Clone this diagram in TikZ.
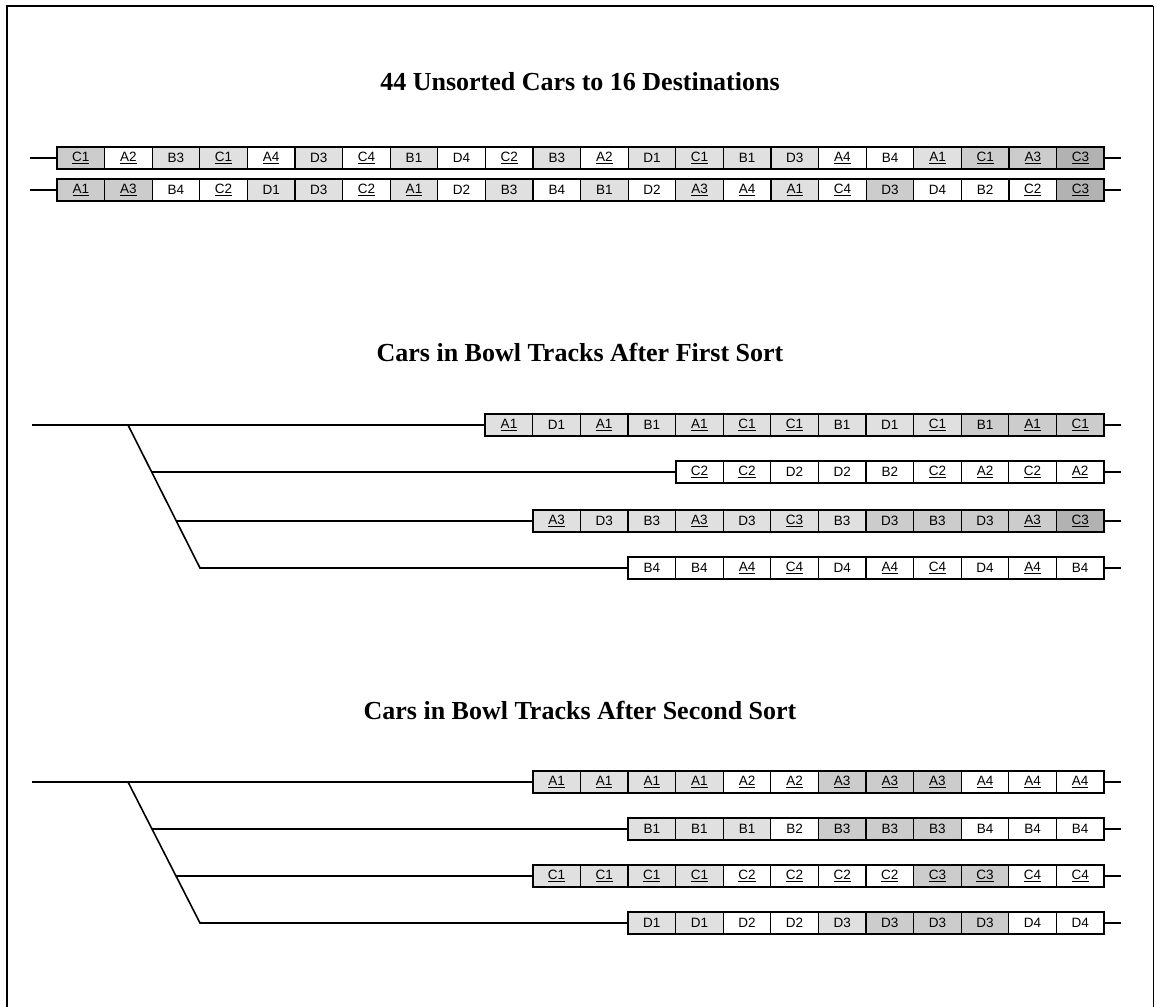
\documentclass[tikz,border=0pt]{standalone}
\usepackage{fontspec}
\setmainfont{Liberation Serif}
\setsansfont{Liberation Sans}
\newcommand\uln[1]{\underline{#1}}
\definecolor{nn}{gray}{1}
\definecolor{ll}{gray}{0.88}
\definecolor{mm}{gray}{0.8}
\definecolor{dd}{gray}{0.7}
\tikzset{
  car/.style={draw, line width=1.2pt, minimum width=47.6pt, minimum height=22pt,
    inner sep=0pt, outer sep=0pt, font=\sffamily\fontsize{13.5}{14}\selectfont},
  trackline/.style={line width=1.6pt},
  boxline/.style={line width=2.2pt},
  title/.style={font=\bfseries\fontsize{26}{30}\selectfont}
}
\newcommand\carrow[4]{%
  \foreach \lab/\sh [count=\i] in {#4} {
    \node[car, fill=\sh] (#1-\i) at ({#3 + (\i-0.5)*47.6}, #2) {\lab};
  }%
}
\begin{document}
\begin{tikzpicture}[x=1pt,y=-1pt]
\useasboundingbox (0,0) rectangle (1157,1007);
% frame
\draw[line width=1.8pt] (7,1007) -- (7,6) -- (1153,6);
\draw[line width=1pt] (1153,6) -- (1153,1007);

% titles
\node[title] (t1) at (580,82) {44 Unsorted Cars to 16 Destinations};
\node[title] (t2) at (580,352) {Cars in Bowl Tracks After First Sort};
\node[title] (t3) at (580,710) {Cars in Bowl Tracks After Second Sort};

% unsorted rows
\carrow{ua}{158}{57}{\uln{C1}/mm, \uln{A2}/nn, B3/ll, \uln{C1}/ll, \uln{A4}/nn, D3/ll, \uln{C4}/nn, B1/ll, D4/nn, \uln{C2}/nn, B3/ll, \uln{A2}/nn, D1/ll, \uln{C1}/ll, B1/ll, D3/ll, \uln{A4}/nn, B4/nn, \uln{A1}/ll, \uln{C1}/mm, \uln{A3}/mm, \uln{C3}/dd}
\carrow{ub}{190}{57}{\uln{A1}/mm, \uln{A3}/mm, B4/nn, \uln{C2}/nn, D1/ll, D3/ll, \uln{C2}/nn, \uln{A1}/ll, D2/nn, B3/ll, B4/nn, B1/ll, D2/nn, \uln{A3}/ll, \uln{A4}/nn, \uln{A1}/ll, \uln{C4}/nn, D3/mm, D4/nn, B2/nn, \uln{C2}/nn, \uln{C3}/dd}
\draw[boxline] (ua-1.north west) rectangle (ua-22.south east);
\draw[boxline] (ub-1.north west) rectangle (ub-22.south east);
\coordinate (uaL) at (30,158); \coordinate (uaR) at (1121,158);
\coordinate (ubL) at (30,190); \coordinate (ubR) at (1121,190);
\draw[trackline] (uaL) -- (ua-1.west);
\draw[trackline] (ua-22.east) -- (uaR);
\draw[trackline] (ubL) -- (ub-1.west);
\draw[trackline] (ub-22.east) -- (ubR);

% first sort
\carrow{fa}{425}{485.2}{\uln{A1}/ll, D1/ll, \uln{A1}/ll, B1/ll, \uln{A1}/ll, \uln{C1}/ll, \uln{C1}/ll, B1/ll, D1/ll, \uln{C1}/ll, B1/mm, \uln{A1}/mm, \uln{C1}/mm}
\carrow{fb}{472}{675.6}{\uln{C2}/nn, \uln{C2}/nn, D2/nn, D2/nn, B2/nn, \uln{C2}/nn, \uln{A2}/nn, \uln{C2}/nn, \uln{A2}/nn}
\carrow{fc}{521}{532.8}{\uln{A3}/ll, D3/ll, B3/ll, \uln{A3}/ll, D3/ll, \uln{C3}/ll, B3/ll, D3/mm, B3/mm, D3/mm, \uln{A3}/mm, \uln{C3}/dd}
\carrow{fd}{568}{628}{B4/nn, B4/nn, \uln{A4}/nn, \uln{C4}/nn, D4/nn, \uln{A4}/nn, \uln{C4}/nn, D4/nn, \uln{A4}/nn, B4/nn}
\draw[boxline] (fa-1.north west) rectangle (fa-13.south east);
\draw[boxline] (fb-1.north west) rectangle (fb-9.south east);
\draw[boxline] (fc-1.north west) rectangle (fc-12.south east);
\draw[boxline] (fd-1.north west) rectangle (fd-10.south east);
\coordinate (fL) at (32,425);
\coordinate (fj1) at (128,425);
\coordinate (fj2) at (151.7,472);
\coordinate (fj3) at (176.3,521);
\coordinate (fj4) at (200,568);
\draw[trackline] (fL) -- (fa-1.west);
\draw[trackline] (fj1) -- (fj4) -- (fd-1.west);
\draw[trackline] (fj2) -- (fb-1.west);
\draw[trackline] (fj3) -- (fc-1.west);
\foreach \r/\n/\y in {fa/13/425, fb/9/472, fc/12/521, fd/10/568} {
  \coordinate (\r R) at (1121,\y);
  \draw[trackline] (\r-\n.east) -- (\r R);
}

% second sort
\carrow{sa}{782}{532.8}{\uln{A1}/ll, \uln{A1}/ll, \uln{A1}/ll, \uln{A1}/ll, \uln{A2}/nn, \uln{A2}/nn, \uln{A3}/mm, \uln{A3}/mm, \uln{A3}/mm, \uln{A4}/nn, \uln{A4}/nn, \uln{A4}/nn}
\carrow{sb}{829}{628}{B1/ll, B1/ll, B1/ll, B2/nn, B3/mm, B3/mm, B3/mm, B4/nn, B4/nn, B4/nn}
\carrow{sc}{876}{532.8}{\uln{C1}/ll, \uln{C1}/ll, \uln{C1}/ll, \uln{C1}/ll, \uln{C2}/nn, \uln{C2}/nn, \uln{C2}/nn, \uln{C2}/nn, \uln{C3}/mm, \uln{C3}/mm, \uln{C4}/nn, \uln{C4}/nn}
\carrow{sd}{923}{628}{D1/ll, D1/ll, D2/nn, D2/nn, D3/ll, D3/mm, D3/mm, D3/mm, D4/nn, D4/nn}
\draw[boxline] (sa-1.north west) rectangle (sa-12.south east);
\draw[boxline] (sb-1.north west) rectangle (sb-10.south east);
\draw[boxline] (sc-1.north west) rectangle (sc-12.south east);
\draw[boxline] (sd-1.north west) rectangle (sd-10.south east);
\coordinate (sL) at (32,782);
\coordinate (sj1) at (128,782);
\coordinate (sj2) at (151.7,829);
\coordinate (sj3) at (176.3,876);
\coordinate (sj4) at (200,923);
\draw[trackline] (sL) -- (sa-1.west);
\draw[trackline] (sj1) -- (sj4) -- (sd-1.west);
\draw[trackline] (sj2) -- (sb-1.west);
\draw[trackline] (sj3) -- (sc-1.west);
\foreach \r/\n/\y in {sa/12/782, sb/10/829, sc/12/876, sd/10/923} {
  \coordinate (\r R) at (1121,\y);
  \draw[trackline] (\r-\n.east) -- (\r R);
}
\end{tikzpicture}
\end{document}
